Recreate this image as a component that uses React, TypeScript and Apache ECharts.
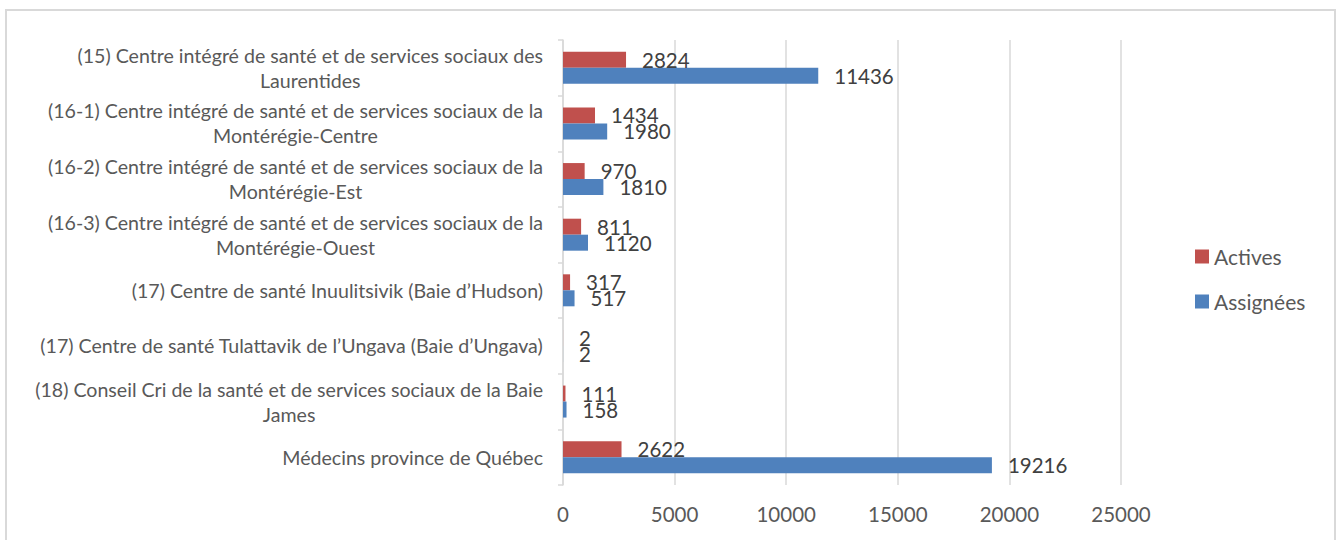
import React, { useEffect, useRef } from "react";
import * as echarts from "echarts";

const categories: string[] = [
  "(15) Centre intégré de santé et de services sociaux des\nLaurentides",
  "(16-1) Centre intégré de santé et de services sociaux de la\nMontérégie-Centre",
  "(16-2) Centre intégré de santé et de services sociaux de la\nMontérégie-Est",
  "(16-3) Centre intégré de santé et de services sociaux de la\nMontérégie-Ouest",
  "(17) Centre de santé Inuulitsivik (Baie d’Hudson)",
  "(17) Centre de santé Tulattavik de l’Ungava (Baie d’Ungava)",
  "(18) Conseil Cri de la santé et de services sociaux de la Baie\nJames",
  "Médecins province de Québec",
];
const activesName = "Actives";
const assigneesName = "Assignées";
const actives: number[] = [2824, 1434, 970, 811, 317, 2, 111, 2622];
const assignees: number[] = [11436, 1980, 1810, 1120, 517, 2, 158, 19216];
const xTicks = { min: 0, max: 25000, interval: 5000 };

const FONT = "Lato, 'Liberation Sans', sans-serif";
const TEXT = "#595959";
const GRID = "#d9d9d9";

export default function App() {
  const ref = useRef<HTMLDivElement>(null);
  useEffect(() => {
    if (!ref.current) return;
    const chart = echarts.init(ref.current, undefined, { renderer: "svg" });
    const labelCfg = {
      show: true,
      position: "right",
      distance: 16,
      fontSize: 20.5,
      color: "#404040",
      fontFamily: FONT,
    };
    chart.setOption({
      animation: false,
      textStyle: { fontFamily: FONT },
      graphic: [
        {
          type: "rect",
          shape: { x: 6, y: 10, width: 1329, height: 560 },
          style: { fill: "none", stroke: GRID, lineWidth: 2 },
          silent: true,
        },
      ],
      legend: {
        orient: "vertical",
        left: 1195,
        top: 246,
        padding: 0,
        itemWidth: 14,
        itemHeight: 14,
        itemGap: 24,
        icon: "rect",
        data: [activesName, assigneesName],
        textStyle: { fontSize: 21, color: TEXT, fontFamily: FONT },
      },
      grid: { left: 563, right: 218, top: 40, bottom: 55, containLabel: false },
      xAxis: {
        type: "value",
        min: xTicks.min,
        max: xTicks.max,
        interval: xTicks.interval,
        axisLine: { show: false },
        axisTick: { show: false },
        splitLine: { lineStyle: { color: GRID, width: 1.5 } },
        axisLabel: {
          fontSize: 20.5,
          color: TEXT,
          margin: 18,
          fontFamily: FONT,
          formatter: (v: number) => String(v),
        },
      },
      yAxis: {
        type: "category",
        inverse: true,
        data: categories,
        axisLine: { show: true, lineStyle: { color: GRID, width: 1.5 } },
        axisTick: { show: true, length: 5, lineStyle: { color: GRID, width: 1.5 } },
        axisLabel: {
          margin: 20,
          fontSize: 19.6,
          color: TEXT,
          fontFamily: FONT,
          lineHeight: 25,
          formatter: (v: string) =>
            v
              .split("\n")
              .map((l) => `{c|${l}}`)
              .join("\n"),
          rich: { c: { align: "center", fontSize: 19.6, color: TEXT, fontFamily: FONT, lineHeight: 25 } },
        },
      },
      series: [
        {
          name: activesName,
          type: "bar",
          data: actives,
          barWidth: 16,
          barGap: "0%",
          itemStyle: { color: "#C0504D" },
          label: labelCfg,
        },
        {
          name: assigneesName,
          type: "bar",
          data: assignees,
          barWidth: 16,
          barGap: "0%",
          itemStyle: { color: "#4F81BD" },
          label: labelCfg,
        },
      ],
    });
    return () => chart.dispose();
  }, []);
  return (
    <div
      ref={ref}
      style={{ position: "absolute", left: 0, top: 0, width: 1339, height: 540, background: "#fff" }}
    />
  );
}
